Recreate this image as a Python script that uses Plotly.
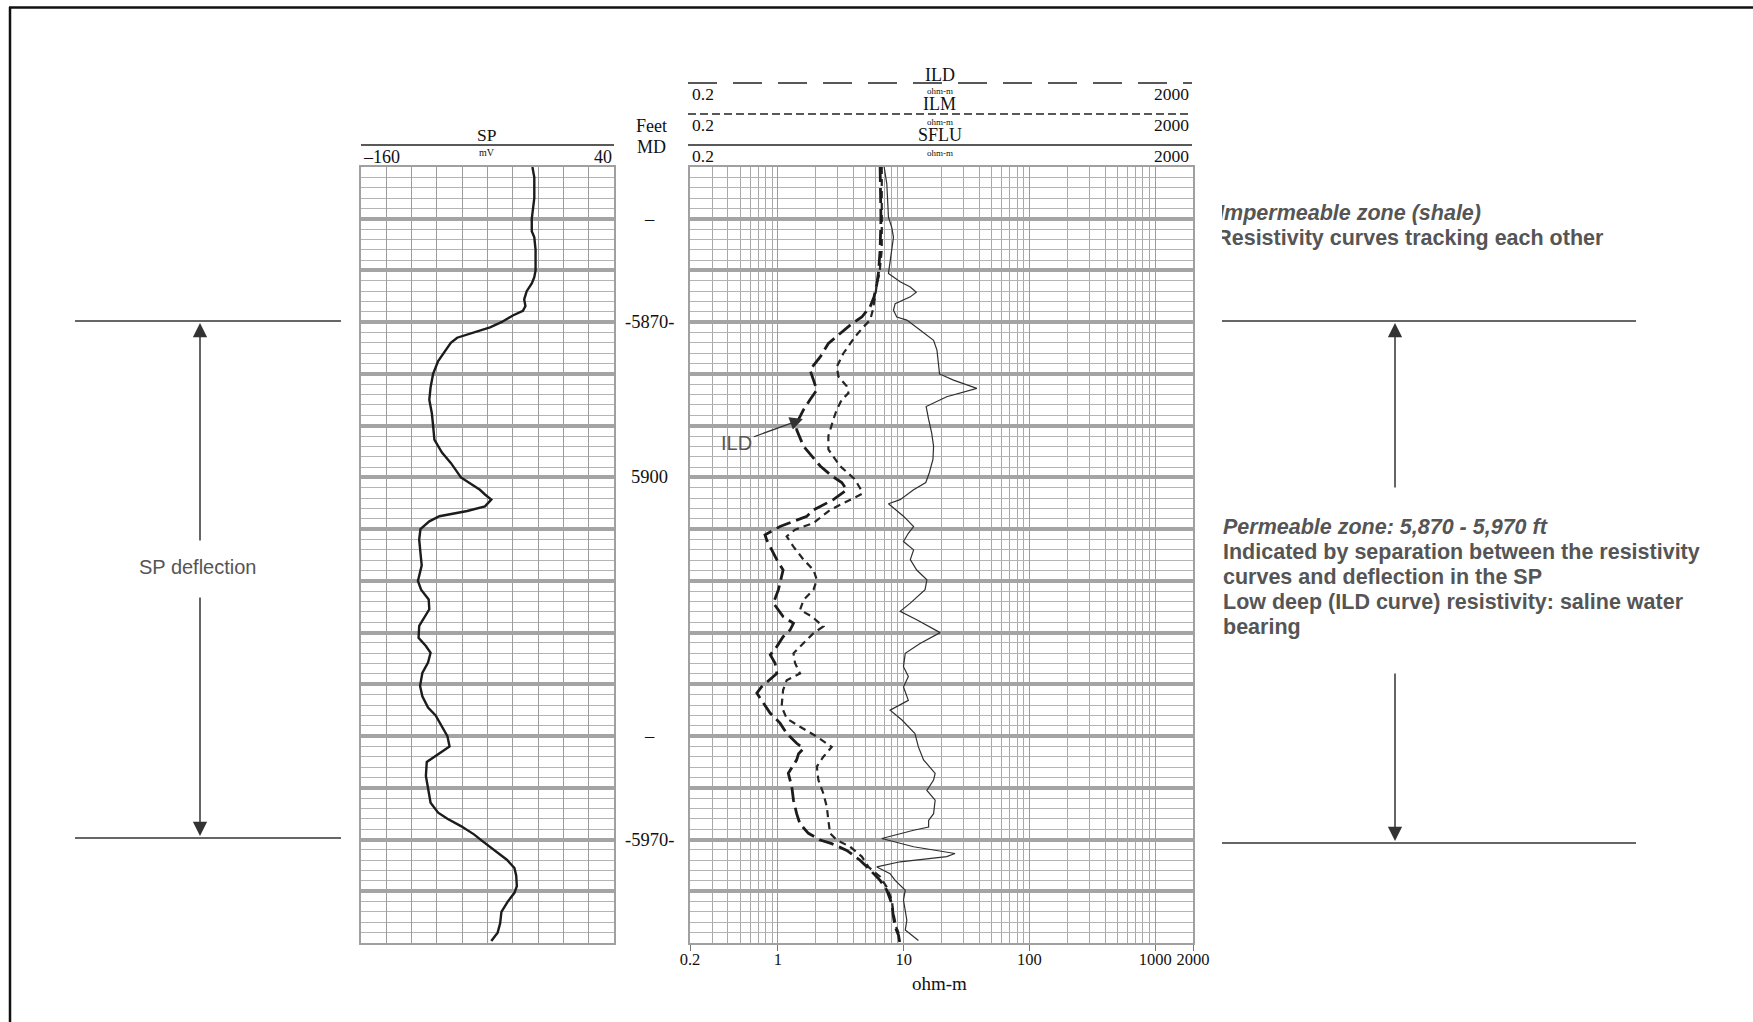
import math
import plotly.graph_objects as go

W, H = 1753, 1022

# ---------------- data ----------------
sp_depth = [5840, 5842, 5846, 5850, 5852.4, 5853.6, 5856, 5860, 5861.3, 5862.5, 5864, 5865.6,
            5866.9, 5867.8, 5868.7, 5870, 5871, 5872, 5873, 5874, 5875, 5877.5, 5880, 5882.6,
            5885, 5887.6, 5890, 5892.7, 5895.2, 5897.2, 5900, 5901, 5902.4, 5903.3, 5904.3,
            5905.6, 5906.5, 5907.5, 5908.5, 5910, 5912, 5914.6, 5917, 5919, 5920, 5921.7,
            5923.6, 5925.5, 5927.4, 5928.7, 5931, 5932.6, 5933.9, 5935.8, 5937.8, 5940.3,
            5942.3, 5944.5, 5946, 5948, 5950, 5952, 5953, 5953.9, 5955, 5957.7, 5960.3, 5962.9,
            5964.8, 5966, 5967.4, 5969, 5970.3, 5971.9, 5973.9, 5975.5, 5977, 5979, 5980.3,
            5982, 5984, 5986.2, 5988, 5989.6]
sp_mv = [-24.5, -23, -23, -25, -25, -23, -22, -22, -23, -25, -29, -31,
         -30, -32, -40, -49, -58, -71, -84, -89, -92, -99, -103, -105,
         -106, -104, -103, -102, -96, -89, -81, -75, -66, -62, -57,
         -62, -76, -98, -106, -113, -114, -113, -112, -114, -115, -112.5,
         -106.5, -106, -111, -114, -114.5, -108.7, -105, -107, -111.5, -113.3,
         -111.5, -107, -101, -96.5, -91.7, -90, -96, -102, -108, -108.7, -106.7, -105,
         -99, -91.7, -81, -70.7, -64, -55, -44.7, -38.7, -37.3, -36.8, -38.7,
         -44, -49, -50, -52, -57]

ild_depth = [5840, 5843.3, 5850, 5856, 5860.4, 5862.6, 5865.1, 5867, 5869, 5870.3, 5872.2,
             5874.1, 5876.7, 5879.2, 5881.2, 5883.1, 5885, 5886.9, 5888.8, 5890.8, 5894,
             5895.9, 5897.8, 5899.7, 5901, 5902.4, 5904.3, 5906.3, 5907.5, 5909.5, 5911.1,
             5912.1, 5914, 5915.9, 5917.9, 5921.7, 5924.3, 5926.9, 5928.2, 5929.5, 5930.8,
             5932.7, 5934.3, 5935.9, 5937.9, 5940.5, 5941.7, 5943, 5945.6, 5947.5, 5949.5,
             5951.4, 5952.4, 5953.4, 5954.6, 5957.2, 5959.8, 5962.4, 5965, 5967, 5968.8,
             5970.1, 5970.8, 5972.1, 5974, 5975.9, 5977.9, 5979.8, 5982.4, 5985, 5986.9,
             5988.5, 5989.8]
ild_ohm = [6.5, 6.56, 6.6, 6.5, 6.31, 6.12, 5.82, 5.41, 4.65, 3.87, 3.12,
           2.52, 2.17, 1.80, 1.92, 2.04, 1.80, 1.60, 1.46, 1.41, 1.60,
           1.86, 2.17, 2.68, 3.22, 3.53, 2.76, 1.92, 1.70, 1.04, 0.79,
           0.815, 0.89, 0.98, 1.10, 1.01, 0.92, 1.10, 1.33, 1.25, 1.10,
           0.98, 0.87, 0.95, 0.98, 0.74, 0.68, 0.74, 0.87, 1.04, 1.175,
           1.41, 1.60, 1.46, 1.41, 1.21, 1.29, 1.33, 1.41, 1.50, 1.75,
           2.17, 2.68, 3.53, 4.5, 5.41, 6.5, 7.35, 8.05, 8.3, 8.56,
           9.1, 9.3]

ilm_depth = [5840, 5850, 5856, 5860.6, 5862.6, 5865.1, 5867.7, 5869.6, 5870.9, 5872.8,
             5874.1, 5876, 5878.6, 5880.5, 5882.4, 5883.7, 5885, 5886.9, 5888.8, 5892,
             5894.6, 5897.8, 5900.4, 5902.3, 5903.2, 5904.3, 5906.3, 5908.8, 5910.1, 5911.4,
             5913.4, 5915.9, 5917.9, 5919.8, 5921.7, 5923.7, 5925.6, 5926.9, 5928.8, 5930.1,
             5932.1, 5934, 5935.9, 5937.9, 5939.2, 5941.1, 5944.3, 5946.6, 5948.2, 5950.1,
             5952.1, 5954, 5955.9, 5958.5, 5961.1, 5963.7, 5966.3, 5968.8, 5970.1, 5971.4,
             5973.3, 5975.3, 5977.2, 5979.2, 5981.7, 5984.3, 5986.9, 5988.8]
ilm_ohm = [6.7, 6.7, 6.7, 6.42, 6.12, 5.93, 5.68, 5.41, 4.79, 4.11,
           3.75, 3.32, 2.94, 3.03, 3.53, 3.64, 3.22, 2.94, 2.76, 2.52,
           2.52, 3.12, 4.11, 4.55, 4.65, 3.75, 2.6, 1.92, 1.37, 1.175,
           1.33, 1.6, 1.92, 2.04, 1.92, 1.6, 1.5, 1.86, 2.3, 1.92,
           1.6, 1.33, 1.37, 1.5, 1.175, 1.1, 1.07, 1.175, 1.5, 2.04,
           2.68, 2.3, 2.04, 2.1, 2.3, 2.45, 2.52, 2.6, 2.94, 3.75,
           4.65, 5.25, 6.5, 7.35, 8.05, 8.3, 8.72, 9.38]

sflu_depth = [5840, 5843.3, 5849.7, 5851.7, 5853.6, 5856, 5858, 5860.6, 5862.2, 5863.2,
              5864.2, 5865.1, 5866.4, 5867.7, 5869, 5869.6, 5871.5, 5873.5, 5875.4, 5878,
              5880, 5881.2, 5882.8, 5884.4, 5886.3, 5888.8, 5891.4, 5894, 5896.5, 5899.1,
              5901, 5902.4, 5904.3, 5905.1, 5905.9, 5907.5, 5909.5, 5910.8, 5912.4, 5914,
              5915.9, 5917.9, 5919.8, 5921.7, 5924.3, 5925.9, 5927.5, 5930, 5932.1, 5934,
              5936.6, 5938.5, 5940.5, 5943.1, 5945, 5946.9, 5949.5, 5952.1, 5954.6, 5957.2,
              5958.5, 5960.5, 5962.4, 5965, 5966.3, 5967.6, 5968.2, 5969.8, 5971.4, 5972.7,
              5973.3, 5974.3, 5975.3, 5976.6, 5977.9, 5979.8, 5981.7, 5983.7, 5985.6, 5987.5,
              5989.5]
sflu_ohm = [7.0, 7.35, 7.57, 8.05, 8.3, 8.05, 7.8, 7.57, 9.38, 11.3,
            12.6, 11.3, 8.56, 8.3, 8.82, 10.6, 13.5, 17.3, 18.4, 18.9,
            19.3, 24.9, 38.2, 22.0, 15.1, 15.8, 16.7, 17.3, 17.1, 16.0,
            15.0, 12.0, 9.38, 7.57, 8.3, 9.97, 12.0, 10.9, 9.97, 12.0,
            11.3, 12.7, 15.3, 14.8, 11.3, 9.38, 12.7, 19.5, 13.5, 10.3,
            9.97, 10.9, 9.97, 10.9, 7.8, 9.7, 12.3, 13.1, 14.4, 17.8,
            17.3, 15.3, 17.8, 17.3, 15.8, 15.8, 12.0, 6.7, 12.0, 25.6,
            22.0, 9.38, 6.12, 7.8, 8.56, 10.3, 9.97, 10.3, 10.6, 10.3,
            13.1]

depth_ticks = [5850, 5870, 5900, 5950, 5970]
depth_labels = ["\u2013", "-5870-", "5900", "\u2013", "-5970-"]
res_ticks = [0.2, 1, 10, 100, 1000, 2000]
res_labels = ["0.2", "1", "10", "100", "1000", "2000"]
sp_range = [-160, 40]
res_range = [0.2, 2000]
depth_range = [5990, 5840]
ild_pointer = (1.58, 5888.7)   # where the "ILD" label arrow points (ohm-m, ft)

# ---------------- helpers ----------------
def px(x):
    return x / W

def py(y):
    return 1 - y / H

SERIF = "Liberation Serif, Times New Roman, serif"
SANS = "Liberation Sans, Arial, Helvetica, sans-serif"
GRID = "#9c9c9c"
TXT = "#555555"

minor_vals = []
for e in range(-1, 4):
    for m in range(2, 10):
        v = m * 10 ** e
        if res_range[0] < v < res_range[1]:
            minor_vals.append(v)

fig = go.Figure()
fig.add_trace(go.Scatter(x=sp_mv, y=sp_depth, xaxis="x", yaxis="y", mode="lines",
                         line=dict(color="#1c1c1c", width=2.4), name="SP"))
fig.add_trace(go.Scatter(x=sflu_ohm, y=sflu_depth, xaxis="x2", yaxis="y2", mode="lines",
                         line=dict(color="#303030", width=1.2), name="SFLU"))
fig.add_trace(go.Scatter(x=ilm_ohm, y=ilm_depth, xaxis="x2", yaxis="y2", mode="lines",
                         line=dict(color="#262626", width=2.2, dash="7px,5px"), name="ILM"))
fig.add_trace(go.Scatter(x=ild_ohm, y=ild_depth, xaxis="x2", yaxis="y2", mode="lines",
                         line=dict(color="#1c1c1c", width=2.8, dash="15px,6px"), name="ILD"))

ydom = [py(943), py(167)]
yax = dict(range=depth_range, domain=ydom, tick0=5840, dtick=10, showgrid=True,
           gridcolor="#a4a4a4", gridwidth=3.5, showticklabels=False, ticks="", automargin=False,
           zeroline=False, showline=True, linecolor="#a0a0a0", linewidth=2, mirror=True,
           minor=dict(tick0=5840, dtick=2, showgrid=True, gridcolor="#b4b4b4", gridwidth=1, ticks=""))

fig.update_layout(
    width=W, height=H, autosize=False, margin=dict(l=0, r=0, t=0, b=0, pad=0, autoexpand=False),
    paper_bgcolor="white", plot_bgcolor="white", showlegend=False,
    xaxis=dict(domain=[px(361), px(614)], range=sp_range, anchor="y", tick0=-160, dtick=20,
               showgrid=True, gridcolor=GRID, gridwidth=1, showticklabels=False, ticks="",
               automargin=False,
               zeroline=False, showline=True, linecolor="#a0a0a0", linewidth=2, mirror=True),
    yaxis=dict(anchor="x", **yax),
    xaxis2=dict(domain=[px(690), px(1193)], type="log",
                range=[math.log10(res_range[0]), math.log10(res_range[1])], anchor="y2",
                tickmode="array", tickvals=res_ticks, ticktext=res_labels, automargin=False,
                tickangle=0, ticks="outside", ticklen=6, tickcolor="#777", tickwidth=1.2,
                ticklabelstandoff=-6,
                tickfont=dict(family=SERIF, size=16.5, color="#111"),
                showgrid=True, gridcolor=GRID, gridwidth=1, zeroline=False,
                showline=True, linecolor="#a0a0a0", linewidth=2, mirror=True,
                minor=dict(tickmode="array", tickvals=minor_vals, showgrid=True,
                           gridcolor="#a8a8a8", gridwidth=1, ticks="")),
    yaxis2=dict(anchor="x2", **yax),
)

shapes = []
def hline(y, x0, x1, width=1.5, color="#333", dash=None):
    d = dict(type="line", xref="paper", yref="paper", x0=px(x0), x1=px(x1), y0=py(y), y1=py(y),
             line=dict(color=color, width=width))
    if dash:
        d["line"]["dash"] = dash
    shapes.append(d)

# outer frame
shapes.append(dict(type="line", xref="paper", yref="paper", x0=px(10), x1=px(10), y0=py(7), y1=0,
                   line=dict(color="#111", width=2.5)))
hline(7.5, 9, W, width=2.5, color="#111")
# headers
hline(145, 361, 614, width=1.3, color="#222")
hline(83, 688, 1192, width=1.4, color="#222", dash="29px,16px")
hline(114, 688, 1192, width=1.4, color="#222", dash="8px,4px")
hline(145, 688, 1192, width=1.3, color="#222")
# zone boundaries
hline(321, 75, 341, width=1.6, color="#333")
hline(838, 75, 341, width=1.6, color="#333")
hline(321, 1222, 1636, width=1.6, color="#333")
hline(843, 1222, 1636, width=1.6, color="#333")
fig.update_layout(shapes=shapes)

ann = []
def txt(x, y, s, size=18, family=SERIF, color="#111", xanchor="center", yanchor="middle", **kw):
    d = dict(x=px(x), y=py(y), xref="paper", yref="paper", text=s, showarrow=False,
             xanchor=xanchor, yanchor=yanchor, font=dict(family=family, size=size, color=color))
    d.update(kw)
    ann.append(d)

# SP header
txt(487, 135, "SP", 17.5)
txt(361, 157, "\u2013160", 18, xanchor="left")
txt(487, 153, "mV", 10)
txt(614, 157, "40", 18, xanchor="right")
# depth header
txt(651, 126, "Feet", 18)
txt(651, 147, "MD", 18)
# resistivity header
for name, yt, ys in [("ILD", 75, 94), ("ILM", 104, 125), ("SFLU", 135, 156)]:
    txt(940, yt, name, 18)
    txt(690, ys, "0.2", 17.5, xanchor="left")
    txt(940, ys - 3, "ohm-m", 9)
    txt(1191, ys, "2000", 17.5, xanchor="right")
txt(940, 983, "ohm-m", 19)

# depth labels
for d, lab in zip(depth_ticks, depth_labels):
    ann.append(dict(x=px(649), y=d, xref="paper", yref="y2", text=lab, showarrow=False,
                    xanchor="center", yanchor="middle", font=dict(family=SERIF, size=18.5, color="#111")))

# ILD pointer (log axis -> annotation x in log10 units)
ann.append(dict(x=math.log10(ild_pointer[0]), y=ild_pointer[1], xref="x2", yref="y2",
                ax=-66, ay=24, axref="pixel", ayref="pixel",
                text="ILD", showarrow=True, arrowhead=2, arrowsize=2.0, arrowwidth=1.3,
                arrowcolor="#333", font=dict(family=SANS, size=20, color=TXT)))

# arrows
def arrow(x, ytip, ytail):
    ann.append(dict(x=px(x), y=py(ytip), xref="paper", yref="paper", ax=0, ay=ytail - ytip,
                    axref="pixel", ayref="pixel", text="", showarrow=True, arrowhead=2,
                    arrowsize=1.9, arrowwidth=1.5, arrowcolor="#333"))

arrow(200, 323, 542)
arrow(200, 836, 596)
arrow(1395, 323, 489)
arrow(1395, 841, 672)

txt(198, 567, "SP deflection", 20, family=SANS, color=TXT)

# upper right text: clipped at the left edge as in the reference
txt(1221, 213, "<b><i>Impermeable zone (shale)</i></b>", 21.5, family=SANS, color=TXT,
    xanchor="left", width=259, align="right", borderpad=0)
txt(1221, 238, "<b>Resistivity curves tracking each other</b>", 21.5, family=SANS, color=TXT,
    xanchor="left", width=382, align="right", borderpad=0)
perm_lines = ["<b><i>Permeable zone: 5,870 - 5,970 ft</i></b>",
              "<b>Indicated by separation between the resistivity</b>",
              "<b>curves and deflection in the SP</b>",
              "<b>Low deep (ILD curve) resistivity: saline water</b>",
              "<b>bearing</b>"]
for i, s in enumerate(perm_lines):
    txt(1221, 527 + 25 * i, s, 21.5, family=SANS, color=TXT, xanchor="left")

fig.update_layout(annotations=ann)

fig.write_html("out.html", config={"displayModeBar": False, "responsive": False},
               post_script="document.body.style.margin='0px';document.body.style.overflow='hidden';")
